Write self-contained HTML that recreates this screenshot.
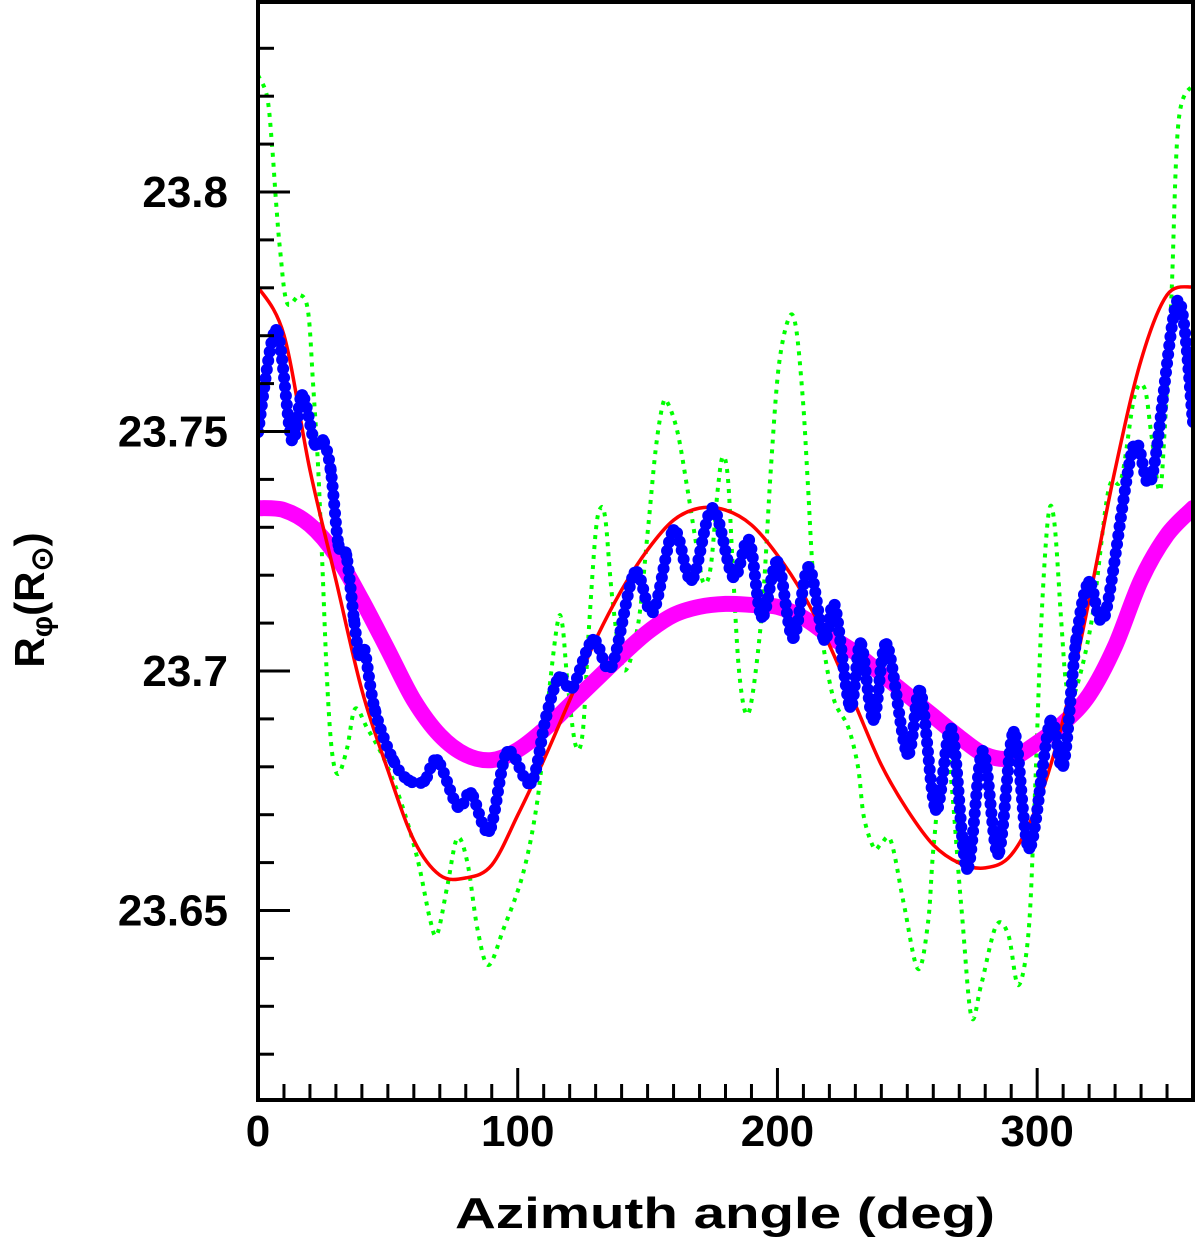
<!DOCTYPE html>
<html><head><meta charset="utf-8"><style>
body{margin:0;background:#fff}
svg{display:block}
text{font-family:"Liberation Sans",sans-serif;font-weight:bold;fill:#000}
</style></head><body>
<svg id="chart" width="1200" height="1244" viewBox="0 0 1200 1244" xmlns="http://www.w3.org/2000/svg">
<g id="marks"></g>
<g id="axes"></g>
<text x="725" y="1228" text-anchor="middle" font-size="44" textLength="540" lengthAdjust="spacingAndGlyphs">Azimuth angle (deg)</text>
<text transform="translate(44,600) rotate(-90)" text-anchor="middle" font-size="42">R<tspan font-size="30" dy="8">φ</tspan><tspan dy="-8">(R</tspan><tspan font-size="30" dy="8">⊙</tspan><tspan dy="-8">)</tspan></text>
</svg>
<script>
const magentaX=[0,10,20,30,40,50,60,70,80,90,100,110,120,130,140,150,160,170,180,190,200,210,220,230,240,250,260,270,280,290,300,310,320,330,340,350,360];
const magentaY=[23.734,23.7336,23.7305,23.7242,23.7148,23.7044,23.6939,23.6866,23.6825,23.6814,23.6835,23.6877,23.6929,23.6981,23.7033,23.7081,23.7117,23.7134,23.714,23.7138,23.7134,23.7111,23.7073,23.7038,23.6994,23.695,23.6906,23.6862,23.6825,23.6818,23.685,23.6891,23.695,23.7052,23.719,23.7284,23.734];
const redX=[0,10,20,30,40,50,60,70,80,90,100,110,120,130,140,150,160,170,180,190,200,210,220,230,240,250,260,270,280,290,300,310,320,330,340,350,360];
const redY=[23.7802,23.7701,23.742,23.719,23.696,23.6793,23.6647,23.6574,23.6568,23.6595,23.6699,23.6814,23.6939,23.7065,23.7169,23.7253,23.7315,23.734,23.7336,23.7305,23.7242,23.7159,23.7054,23.6929,23.6804,23.671,23.6637,23.6599,23.6589,23.6616,23.672,23.6898,23.7148,23.742,23.7649,23.7785,23.7802];
const greenX=[0,3.5,5.4,6.9,8.5,11.2,16.2,19.3,21.2,23.1,24.7,26.6,28.5,30.9,34.3,37.4,42,48.2,54.8,61.3,66.3,69,72.9,76.7,80.6,84.5,88.7,94.5,102.2,107.6,111.5,115.3,117.2,119.2,122.3,125,127.3,130,131.9,133.8,136.5,140.8,146.2,150,153.1,155.8,157.7,161.6,165.4,169.3,171.6,174.3,177,178.9,180.9,182.8,185.1,187.8,190.5,194.4,197.5,200.5,204.4,207.1,209.8,211.7,214,217.9,221.8,227.2,231,233.3,237.2,239.9,243.7,248.7,254.1,258,260.3,265,270.7,274.6,278.4,284.2,288.9,292.7,296.6,298.9,301.6,304.3,306.6,309.3,311.2,313.9,320.9,327.4,332.4,337.4,341.3,344,347.1,349,351.7,354.4,360];
const greenY=[23.8244,23.8199,23.8098,23.7983,23.7879,23.7768,23.7785,23.775,23.7599,23.743,23.723,23.6979,23.6831,23.6785,23.6839,23.6921,23.6881,23.682,23.6731,23.661,23.648,23.6451,23.6551,23.6651,23.6601,23.6461,23.6386,23.6461,23.658,23.6731,23.6929,23.71,23.7096,23.6975,23.6845,23.6871,23.7079,23.7288,23.734,23.7315,23.7148,23.7002,23.7092,23.7288,23.7461,23.7555,23.756,23.7497,23.7378,23.7246,23.7184,23.7217,23.7378,23.7447,23.7405,23.7217,23.7008,23.6912,23.6954,23.7148,23.7426,23.7635,23.7737,23.7718,23.7566,23.7393,23.7184,23.7044,23.6939,23.6883,23.68,23.6695,23.663,23.6639,23.6645,23.6513,23.6378,23.6476,23.6645,23.6848,23.6513,23.628,23.6344,23.6468,23.6449,23.6344,23.6449,23.671,23.7102,23.7324,23.7311,23.7102,23.6971,23.6946,23.7102,23.7376,23.7401,23.7572,23.7591,23.7493,23.7376,23.7493,23.7781,23.8146,23.8224];
const blueX=[0,7,13,17,22,25,28,31,34,37,39,41,45,52,58,64,69,77,82,89,96,105,111,116,121,129,136,145,152,160,167,175,183,189,194,200,206,212,218,222,228,232,237,242,250,255,261,267,273,279,285,291,297,305,310,315,320,326,337,344,354,360];
const blueY=[23.7499,23.7712,23.7482,23.7576,23.7472,23.7482,23.742,23.7263,23.7242,23.7106,23.7033,23.7044,23.6919,23.6814,23.6772,23.677,23.6814,23.6716,23.6745,23.6666,23.6831,23.6766,23.6906,23.6987,23.6965,23.7065,23.7008,23.7205,23.7123,23.7294,23.719,23.734,23.7196,23.7274,23.7113,23.7228,23.7069,23.7217,23.7065,23.7138,23.6925,23.7058,23.6898,23.7056,23.6827,23.6958,23.671,23.6879,23.6587,23.6833,23.6618,23.6873,23.663,23.6894,23.6802,23.7063,23.7186,23.7115,23.7468,23.7401,23.7773,23.752];
const yTickLabels=["23.8","23.75","23.7","23.65"];
const yTickValues=[23.8,23.75,23.7,23.65];
const xTickLabels=["0","100","200","300"];
const xTickValues=[0,100,200,300];

const X0=258,X1=1193,Y0=2,Y1=1100;
const xs=v=>X0+(v/360)*(X1-X0);
const ys=v=>671-(v-23.7)/0.05*239.5;
const NS="http://www.w3.org/2000/svg";
const marks=document.getElementById('marks');
const axes=document.getElementById('axes');
function mk(tag,attrs,parent){const e=document.createElementNS(NS,tag);for(const k in attrs)e.setAttribute(k,attrs[k]);parent.appendChild(e);return e;}
function smooth(xa,ya){
  const p=xa.map((x,i)=>[xs(x),ys(ya[i])]);
  let d='M'+p[0][0].toFixed(1)+','+p[0][1].toFixed(1);
  for(let i=0;i<p.length-1;i++){
    const p0=p[Math.max(0,i-1)],p1=p[i],p2=p[i+1],p3=p[Math.min(p.length-1,i+2)];
    const c1=[p1[0]+(p2[0]-p0[0])/6,p1[1]+(p2[1]-p0[1])/6];
    const c2=[p2[0]-(p3[0]-p1[0])/6,p2[1]-(p3[1]-p1[1])/6];
    d+=' C'+c1[0].toFixed(1)+','+c1[1].toFixed(1)+' '+c2[0].toFixed(1)+','+c2[1].toFixed(1)+' '+p2[0].toFixed(1)+','+p2[1].toFixed(1);
  }
  return d;
}

const clip=mk('clipPath',{id:'pc'},marks);
mk('rect',{x:X0,y:Y0,width:X1-X0,height:Y1-Y0},clip);
const g=mk('g',{'clip-path':'url(#pc)'},marks);

const green=mk('path',{d:smooth(greenX,greenY),fill:'none',stroke:'#00ff00','stroke-width':4,'stroke-dasharray':'4 6'},g);


const mag=mk('path',{d:smooth(magentaX,magentaY),fill:'none',stroke:'#ff00ff','stroke-width':16,'stroke-linejoin':'round','stroke-linecap':'round'},g);


const red=mk('path',{d:smooth(redX,redY),fill:'none',stroke:'#ff0000','stroke-width':3.5,'stroke-linejoin':'round'},g);


const blue=mk('path',{d:smooth(blueX,blueY),fill:'none',stroke:'#0000ff','stroke-width':12,'stroke-linecap':'round','stroke-dasharray':'0 9'},g);


blueX.forEach((x,i)=>{
  const c=mk('circle',{cx:xs(x),cy:ys(blueY[i]),r:6,fill:'#0000ff'},g);
  
  
});

const frame=mk('rect',{x:X0,y:Y0,width:X1-X0,height:Y1-Y0,fill:'none',stroke:'#000','stroke-width':4},axes);


for(let k=0;k<=23;k++){
  const v=23.61+k*0.01; const y=ys(v); if(y<Y0+5||y>Y1-5)continue;
  const major=Math.abs((v*100)%5)<0.01||Math.abs((v*100)%5-5)<0.01;
  const t=mk('line',{x1:X0,x2:X0+(major?32:16),y1:y,y2:y,stroke:'#000','stroke-width':3},axes);
  
  
}
for(let d=10;d<360;d+=10){
  const x=xs(d); const major=d%100===0;
  const t=mk('line',{x1:x,x2:x,y1:Y1,y2:Y1-(major?32:16),stroke:'#000','stroke-width':3},axes);
  
  
}
yTickLabels.forEach((s,i)=>{
  const t=mk('text',{x:228,y:ys(yTickValues[i])+15,'text-anchor':'end','font-size':44},axes);
  t.textContent=s;
  
  
});
xTickLabels.forEach((s,i)=>{
  const t=mk('text',{x:xs(xTickValues[i]),y:1146,'text-anchor':'middle','font-size':44},axes);
  t.textContent=s;
  
  
});
</script>
</body></html>
